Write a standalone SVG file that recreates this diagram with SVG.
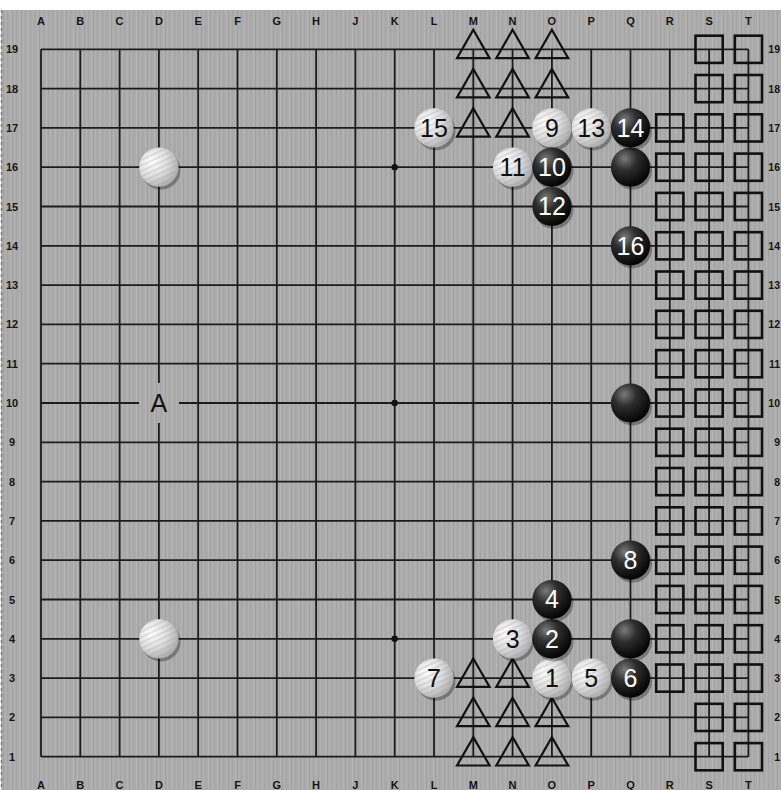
<svg xmlns="http://www.w3.org/2000/svg" width="781" height="790" viewBox="0 0 781 790">
<style>
.lbl{font-family:"Liberation Sans",Arial,sans-serif;font-weight:bold;font-size:11px;fill:#151515;text-anchor:middle}
.rl{text-anchor:end;font-size:10.5px}
.grid line{stroke:#1c1c1c;stroke-width:1.8}
.num{font-family:"Liberation Sans",Arial,sans-serif;font-size:25px;text-anchor:middle}
.wn{fill:#111}
.bn{fill:#fff}
.tri{fill:none;stroke:#111;stroke-width:2.2;stroke-linejoin:miter}
.sq{fill:none;stroke:#111;stroke-width:2.6}
.shadow{fill:#000;opacity:0.3}
</style>
<defs>
<pattern id="wood" width="9" height="10" patternUnits="userSpaceOnUse">
<rect width="9" height="10" fill="#ababab"/>
<rect x="1" width="1" height="10" fill="#b4b4b4"/>
<rect x="3" width="1" height="10" fill="#a3a3a3"/>
<rect x="5" width="1" height="10" fill="#b1b1b1"/>
<rect x="7" width="1" height="10" fill="#a6a6a6"/>
</pattern>
<pattern id="swirl" width="5" height="5" patternUnits="userSpaceOnUse" patternTransform="rotate(-25)">
<rect width="5" height="2" fill="#9a9a9a" opacity="0.25"/>
</pattern>
<radialGradient id="gb" cx="35%" cy="28%" r="75%">
<stop offset="0" stop-color="#7a7a7a"/>
<stop offset="0.4" stop-color="#2e2e2e"/>
<stop offset="1" stop-color="#020202"/>
</radialGradient>
<radialGradient id="gw" cx="32%" cy="35%" r="75%">
<stop offset="0" stop-color="#ffffff"/>
<stop offset="0.5" stop-color="#e0e0e0"/>
<stop offset="1" stop-color="#a8a8a8"/>
</radialGradient>
<g id="bs"><circle class="shadow" cx="2" cy="3" r="19.6"/><circle r="19.6" fill="url(#gb)"/></g>
<g id="ws"><circle class="shadow" cx="2" cy="3" r="19.6"/><circle r="19.6" fill="url(#gw)"/><circle r="19.6" fill="url(#swirl)"/></g>
<path id="tr" class="tri" d="M0,-19.6 L16.3,8.8 L-16.3,8.8 Z"/>
<rect id="sqr" class="sq" x="-13.6" y="-13.6" width="27.2" height="27.2"/>
</defs>

<rect width="781" height="790" fill="#ffffff"/>
<rect x="1" y="10" width="780" height="780" fill="url(#wood)"/>
<line x1="1.5" y1="10" x2="1.5" y2="790" stroke="#7a7a7a" stroke-width="1.5" stroke-dasharray="3,3"/>

<g id="coords" class="lbl">
<text x="41" y="25">A</text><text x="80.3" y="25">B</text><text x="119.6" y="25">C</text><text x="158.9" y="25">D</text><text x="198.2" y="25">E</text><text x="237.5" y="25">F</text><text x="276.8" y="25">G</text><text x="316.1" y="25">H</text><text x="355.4" y="25">J</text><text x="394.7" y="25">K</text><text x="434" y="25">L</text><text x="473.3" y="25">M</text><text x="512.6" y="25">N</text><text x="551.9" y="25">O</text><text x="591.2" y="25">P</text><text x="630.5" y="25">Q</text><text x="669.8" y="25">R</text><text x="709.1" y="25">S</text><text x="748.4" y="25">T</text>
<text x="41" y="789">A</text><text x="80.3" y="789">B</text><text x="119.6" y="789">C</text><text x="158.9" y="789">D</text><text x="198.2" y="789">E</text><text x="237.5" y="789">F</text><text x="276.8" y="789">G</text><text x="316.1" y="789">H</text><text x="355.4" y="789">J</text><text x="394.7" y="789">K</text><text x="434" y="789">L</text><text x="473.3" y="789">M</text><text x="512.6" y="789">N</text><text x="551.9" y="789">O</text><text x="591.2" y="789">P</text><text x="630.5" y="789">Q</text><text x="669.8" y="789">R</text><text x="709.1" y="789">S</text><text x="748.4" y="789">T</text>
<text x="12" y="53.3">19</text><text x="12" y="92.6">18</text><text x="12" y="131.9">17</text><text x="12" y="171.2">16</text><text x="12" y="210.5">15</text><text x="12" y="249.8">14</text><text x="12" y="289.1">13</text><text x="12" y="328.4">12</text><text x="12" y="367.7">11</text><text x="12" y="407">10</text><text x="12" y="446.3">9</text><text x="12" y="485.6">8</text><text x="12" y="524.9">7</text><text x="12" y="564.2">6</text><text x="12" y="603.5">5</text><text x="12" y="642.8">4</text><text x="12" y="682.1">3</text><text x="12" y="721.4">2</text><text x="12" y="760.7">1</text>
<g class="rl">
<text x="780" y="53.3">19</text><text x="780" y="92.6">18</text><text x="780" y="131.9">17</text><text x="780" y="171.2">16</text><text x="780" y="210.5">15</text><text x="780" y="249.8">14</text><text x="780" y="289.1">13</text><text x="780" y="328.4">12</text><text x="780" y="367.7">11</text><text x="780" y="407">10</text><text x="780" y="446.3">9</text><text x="780" y="485.6">8</text><text x="780" y="524.9">7</text><text x="780" y="564.2">6</text><text x="780" y="603.5">5</text><text x="780" y="642.8">4</text><text x="780" y="682.1">3</text><text x="780" y="721.4">2</text><text x="780" y="760.7">1</text>
</g>
</g>

<g id="grid" class="grid">
<line x1="41" y1="49.3" x2="41" y2="756.7"/><line x1="80.3" y1="49.3" x2="80.3" y2="756.7"/><line x1="119.6" y1="49.3" x2="119.6" y2="756.7"/><line x1="158.9" y1="49.3" x2="158.9" y2="756.7"/><line x1="198.2" y1="49.3" x2="198.2" y2="756.7"/><line x1="237.5" y1="49.3" x2="237.5" y2="756.7"/><line x1="276.8" y1="49.3" x2="276.8" y2="756.7"/><line x1="316.1" y1="49.3" x2="316.1" y2="756.7"/><line x1="355.4" y1="49.3" x2="355.4" y2="756.7"/><line x1="394.7" y1="49.3" x2="394.7" y2="756.7"/><line x1="434" y1="49.3" x2="434" y2="756.7"/><line x1="473.3" y1="49.3" x2="473.3" y2="756.7"/><line x1="512.6" y1="49.3" x2="512.6" y2="756.7"/><line x1="551.9" y1="49.3" x2="551.9" y2="756.7"/><line x1="591.2" y1="49.3" x2="591.2" y2="756.7"/><line x1="630.5" y1="49.3" x2="630.5" y2="756.7"/><line x1="669.8" y1="49.3" x2="669.8" y2="756.7"/><line x1="709.1" y1="49.3" x2="709.1" y2="756.7"/><line x1="748.4" y1="49.3" x2="748.4" y2="756.7"/>
<line x1="41" y1="49.3" x2="748.4" y2="49.3"/><line x1="41" y1="88.6" x2="748.4" y2="88.6"/><line x1="41" y1="127.9" x2="748.4" y2="127.9"/><line x1="41" y1="167.2" x2="748.4" y2="167.2"/><line x1="41" y1="206.5" x2="748.4" y2="206.5"/><line x1="41" y1="245.8" x2="748.4" y2="245.8"/><line x1="41" y1="285.1" x2="748.4" y2="285.1"/><line x1="41" y1="324.4" x2="748.4" y2="324.4"/><line x1="41" y1="363.7" x2="748.4" y2="363.7"/><line x1="41" y1="403" x2="748.4" y2="403"/><line x1="41" y1="442.3" x2="748.4" y2="442.3"/><line x1="41" y1="481.6" x2="748.4" y2="481.6"/><line x1="41" y1="520.9" x2="748.4" y2="520.9"/><line x1="41" y1="560.2" x2="748.4" y2="560.2"/><line x1="41" y1="599.5" x2="748.4" y2="599.5"/><line x1="41" y1="638.8" x2="748.4" y2="638.8"/><line x1="41" y1="678.1" x2="748.4" y2="678.1"/><line x1="41" y1="717.4" x2="748.4" y2="717.4"/><line x1="41" y1="756.7" x2="748.4" y2="756.7"/>
<circle cx="394.7" cy="167.2" r="3.2" fill="#111"/><circle cx="394.7" cy="403" r="3.2" fill="#111"/><circle cx="394.7" cy="638.8" r="3.2" fill="#111"/>
</g>

<g id="label-A">
<rect x="139" y="383" width="40" height="40" fill="url(#wood)"/>
<text class="num wn" x="158.9" y="411.5">A</text>
</g>

<g id="triangles">
<use href="#tr" x="473.3" y="49.3"/><use href="#tr" x="512.6" y="49.3"/><use href="#tr" x="551.9" y="49.3"/>
<use href="#tr" x="473.3" y="88.6"/><use href="#tr" x="512.6" y="88.6"/><use href="#tr" x="551.9" y="88.6"/>
<use href="#tr" x="473.3" y="127.9"/><use href="#tr" x="512.6" y="127.9"/>
<use href="#tr" x="473.3" y="678.1"/><use href="#tr" x="512.6" y="678.1"/>
<use href="#tr" x="473.3" y="717.4"/><use href="#tr" x="512.6" y="717.4"/><use href="#tr" x="551.9" y="717.4"/>
<use href="#tr" x="473.3" y="756.7"/><use href="#tr" x="512.6" y="756.7"/><use href="#tr" x="551.9" y="756.7"/>
</g>

<g id="squares">
<use href="#sqr" x="709.1" y="49.3"/><use href="#sqr" x="748.4" y="49.3"/>
<use href="#sqr" x="709.1" y="88.6"/><use href="#sqr" x="748.4" y="88.6"/>
<use href="#sqr" x="669.8" y="127.9"/><use href="#sqr" x="709.1" y="127.9"/><use href="#sqr" x="748.4" y="127.9"/>
<use href="#sqr" x="669.8" y="167.2"/><use href="#sqr" x="709.1" y="167.2"/><use href="#sqr" x="748.4" y="167.2"/>
<use href="#sqr" x="669.8" y="206.5"/><use href="#sqr" x="709.1" y="206.5"/><use href="#sqr" x="748.4" y="206.5"/>
<use href="#sqr" x="669.8" y="245.8"/><use href="#sqr" x="709.1" y="245.8"/><use href="#sqr" x="748.4" y="245.8"/>
<use href="#sqr" x="669.8" y="285.1"/><use href="#sqr" x="709.1" y="285.1"/><use href="#sqr" x="748.4" y="285.1"/>
<use href="#sqr" x="669.8" y="324.4"/><use href="#sqr" x="709.1" y="324.4"/><use href="#sqr" x="748.4" y="324.4"/>
<use href="#sqr" x="669.8" y="363.7"/><use href="#sqr" x="709.1" y="363.7"/><use href="#sqr" x="748.4" y="363.7"/>
<use href="#sqr" x="669.8" y="403"/><use href="#sqr" x="709.1" y="403"/><use href="#sqr" x="748.4" y="403"/>
<use href="#sqr" x="669.8" y="442.3"/><use href="#sqr" x="709.1" y="442.3"/><use href="#sqr" x="748.4" y="442.3"/>
<use href="#sqr" x="669.8" y="481.6"/><use href="#sqr" x="709.1" y="481.6"/><use href="#sqr" x="748.4" y="481.6"/>
<use href="#sqr" x="669.8" y="520.9"/><use href="#sqr" x="709.1" y="520.9"/><use href="#sqr" x="748.4" y="520.9"/>
<use href="#sqr" x="669.8" y="560.2"/><use href="#sqr" x="709.1" y="560.2"/><use href="#sqr" x="748.4" y="560.2"/>
<use href="#sqr" x="669.8" y="599.5"/><use href="#sqr" x="709.1" y="599.5"/><use href="#sqr" x="748.4" y="599.5"/>
<use href="#sqr" x="669.8" y="638.8"/><use href="#sqr" x="709.1" y="638.8"/><use href="#sqr" x="748.4" y="638.8"/>
<use href="#sqr" x="669.8" y="678.1"/><use href="#sqr" x="709.1" y="678.1"/><use href="#sqr" x="748.4" y="678.1"/>
<use href="#sqr" x="709.1" y="717.4"/><use href="#sqr" x="748.4" y="717.4"/>
<use href="#sqr" x="709.1" y="756.7"/><use href="#sqr" x="748.4" y="756.7"/>
</g>

<g id="stones">
<g id="w-D16"><use href="#ws" x="158.9" y="167.2"/></g>
<g id="w-D4"><use href="#ws" x="158.9" y="638.8"/></g>
<g id="b-Q16"><use href="#bs" x="630.5" y="167.2"/></g>
<g id="b-Q10"><use href="#bs" x="630.5" y="403"/></g>
<g id="b-Q4"><use href="#bs" x="630.5" y="638.8"/></g>

<g id="m1"><use href="#ws" x="551.9" y="678.1"/><text class="num wn" x="551.9" y="687">1</text></g>
<g id="m2"><use href="#bs" x="551.9" y="638.8"/><text class="num bn" x="551.9" y="647.7">2</text></g>
<g id="m3"><use href="#ws" x="512.6" y="638.8"/><text class="num wn" x="512.6" y="647.7">3</text></g>
<g id="m4"><use href="#bs" x="551.9" y="599.5"/><text class="num bn" x="551.9" y="608.4">4</text></g>
<g id="m5"><use href="#ws" x="591.2" y="678.1"/><text class="num wn" x="591.2" y="687">5</text></g>
<g id="m6"><use href="#bs" x="630.5" y="678.1"/><text class="num bn" x="630.5" y="687">6</text></g>
<g id="m7"><use href="#ws" x="434" y="678.1"/><text class="num wn" x="434" y="687">7</text></g>
<g id="m8"><use href="#bs" x="630.5" y="560.2"/><text class="num bn" x="630.5" y="569.1">8</text></g>
<g id="m9"><use href="#ws" x="551.9" y="127.9"/><text class="num wn" x="551.9" y="136.8">9</text></g>
<g id="m10"><use href="#bs" x="551.9" y="167.2"/><text class="num bn" x="551.9" y="176.1">10</text></g>
<g id="m11"><use href="#ws" x="512.6" y="167.2"/><text class="num wn" x="512.6" y="176.1">11</text></g>
<g id="m12"><use href="#bs" x="551.9" y="206.5"/><text class="num bn" x="551.9" y="215.4">12</text></g>
<g id="m13"><use href="#ws" x="591.2" y="127.9"/><text class="num wn" x="591.2" y="136.8">13</text></g>
<g id="m14"><use href="#bs" x="630.5" y="127.9"/><text class="num bn" x="630.5" y="136.8">14</text></g>
<g id="m15"><use href="#ws" x="434" y="127.9"/><text class="num wn" x="434" y="136.8">15</text></g>
<g id="m16"><use href="#bs" x="630.5" y="245.8"/><text class="num bn" x="630.5" y="254.7">16</text></g>
</g>
</svg>
